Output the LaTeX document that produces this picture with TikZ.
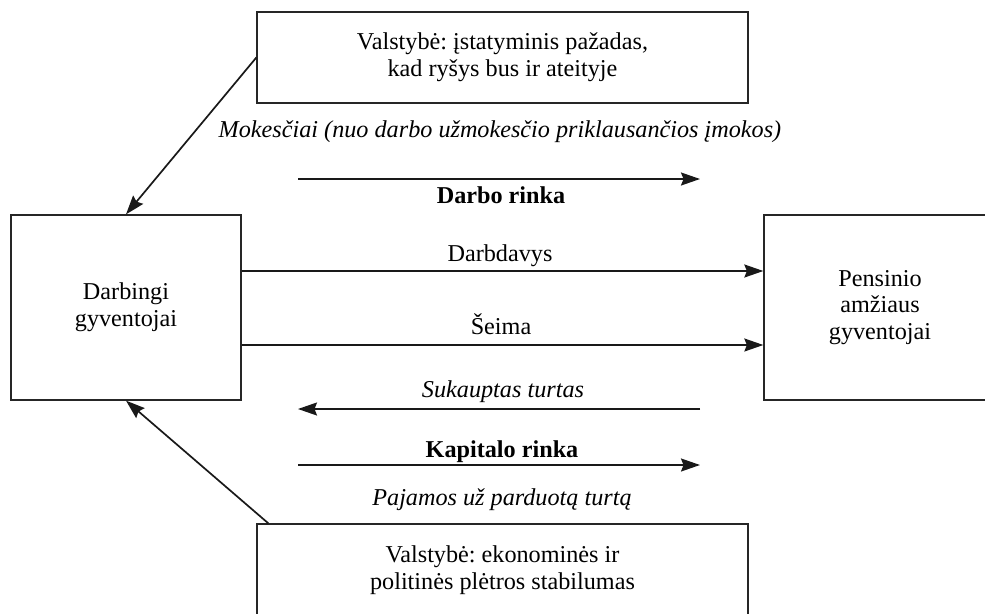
\documentclass[tikz,border=0pt]{standalone}
\usepackage{fontspec}
\setmainfont{Liberation Serif}
\usetikzlibrary{arrows.meta}
\frenchspacing
\begin{document}
\begin{tikzpicture}[x=1pt,y=-1pt,
  box/.style={draw=black!85, line width=1.3pt, align=center, inner sep=0pt,
    font=\fontsize{24.2}{26.8}\selectfont},
  lab/.style={anchor=base, inner sep=0pt, font=\fontsize{24.2}{26.8}\selectfont},
  arr/.style={draw=black!90, line width=1.7pt, -{Stealth[length=19pt,width=13pt,inset=2.5pt]}}]
\useasboundingbox (0,0) rectangle (985,613);
% boxes
\node[box, minimum width=491pt, minimum height=91pt] (top) at (502.5,57.5)
  {Valstybė: įstatyminis pažadas,\\kad ryšys bus ir ateityje};
\node[box, minimum width=230pt, minimum height=185pt] (left) at (126,307.5)
  {Darbingi\\gyventojai};
\node[box, minimum width=232pt, minimum height=185pt] (right) at (880,307.5)
  {Pensinio\\amžiaus\\gyventojai};
\node[box, minimum width=491pt, minimum height=92pt] (bot) at (502.5,570)
  {Valstybė: ekonominės ir\\politinės plėtros stabilumas};
% free arrow ends
\coordinate (dA) at (298,179);
\coordinate (dB) at (700,179);
\coordinate (sA) at (700,409);
\coordinate (sB) at (298,409);
\coordinate (kA) at (298,465);
\coordinate (kB) at (700,465);
% labels
\node[lab, font=\fontsize{24.2}{26.8}\selectfont\itshape] (mok) at (500,137)
  {Mokesčiai (nuo darbo užmokesčio priklausančios įmokos)};
\node[lab, font=\fontsize{24.2}{26.8}\selectfont\bfseries] (drinka) at (501,203) {Darbo rinka};
\node[lab] (darbd) at (500,261) {Darbdavys};
\node[lab] (seima) at (501,334) {Šeima};
\node[lab, font=\fontsize{24.2}{26.8}\selectfont\itshape] (suk) at (503,397) {Sukauptas turtas};
\node[lab, font=\fontsize{24.2}{26.8}\selectfont\bfseries] (krinka) at (502,457) {Kapitalo rinka};
\node[lab, font=\fontsize{24.2}{26.8}\selectfont\itshape] (paj) at (502,505) {Pajamos už parduotą turtą};
% connectors
\draw[arr] (top.west) -- (left.north);
\draw[arr] ([xshift=12pt]bot.north west) -- (left.south);
\draw[arr] (dA) -- (dB);
\draw[arr] ([yshift=36.5pt]left.east) -- ([yshift=36.5pt]right.west);
\draw[arr] ([yshift=-37.5pt]left.east) -- ([yshift=-37.5pt]right.west);
\draw[arr] (sA) -- (sB);
\draw[arr] (kA) -- (kB);
\end{tikzpicture}
\end{document}
